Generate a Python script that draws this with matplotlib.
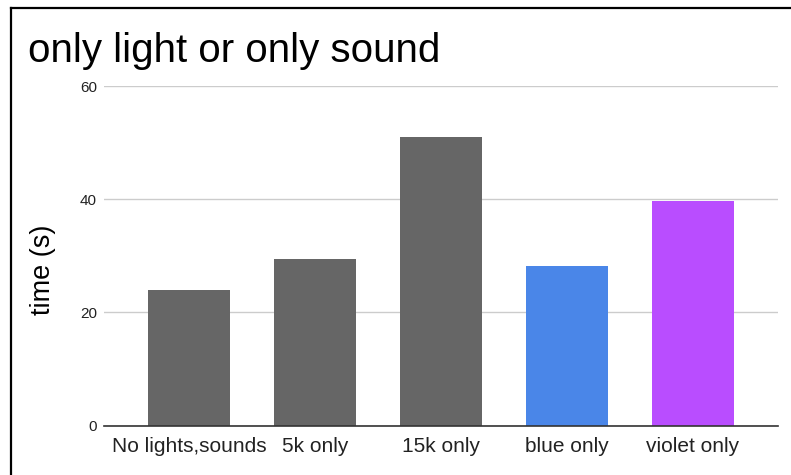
import matplotlib
matplotlib.use("Agg")
import matplotlib.pyplot as plt
from matplotlib.lines import Line2D

categories = ["No lights,sounds", "5k only", "15k only", "blue only", "violet only"]
times = [24.0, 29.5, 50.9, 28.2, 39.6]
bar_colors = ["#666666", "#666666", "#666666", "#4a86e8", "#b94dff"]
y_ticks = [0, 20, 40, 60]

plt.rcParams["font.family"] = ["Liberation Sans", "DejaVu Sans"]

fig = plt.figure(figsize=(7.91, 4.75), dpi=100)
ax = fig.add_axes([104 / 791, 1 - 425.5 / 475, 674 / 791, 339.5 / 475])

x = list(range(len(categories)))
ax.bar(x, times, width=0.65, color=bar_colors, zorder=3)

ax.set_xlim(-0.675, len(categories) - 1 + 0.675)
ax.set_ylim(0, 60)
ax.set_yticks(y_ticks)
ax.set_yticklabels([str(v) for v in y_ticks], fontsize=11, color="#222222")
ax.set_xticks(x)
ax.set_xticklabels(categories, fontsize=15, color="#222222")
ax.tick_params(axis="both", length=0)
ax.tick_params(axis="y", pad=5)
ax.tick_params(axis="x", pad=8)

ax.grid(axis="y", color="#cccccc", linewidth=1, zorder=0)
for s in ["top", "right", "left"]:
    ax.spines[s].set_visible(False)
ax.spines["bottom"].set_color("#333333")
ax.spines["bottom"].set_linewidth(1.2)
ax.spines["bottom"].set_zorder(4)

fig.text(43 / 791, 1 - 270 / 475, "time (s)", fontsize=19.5, color="#000000",
         rotation=90, ha="center", va="center")

fig.text(28 / 791, 1 - 62 / 475, "only light or only sound", fontsize=29,
         color="#000000", ha="left", va="baseline")

# frame lines along the left and top edges of the canvas
fig.add_artist(Line2D([11 / 791, 11 / 791], [0, 1 - 8 / 475],
                      transform=fig.transFigure, color="#000000", linewidth=1.6))
fig.add_artist(Line2D([11 / 791, 1], [1 - 8 / 475, 1 - 8 / 475],
                      transform=fig.transFigure, color="#000000", linewidth=1.6))

fig.savefig("out.png", dpi=100)
